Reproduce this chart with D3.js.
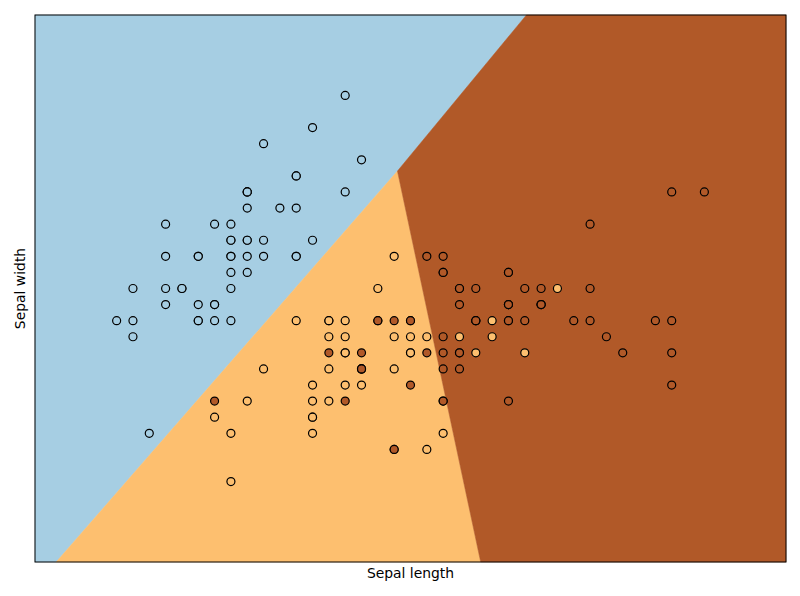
<!DOCTYPE html>
<html lang="en">
  <head>
    <meta charset="utf-8">
    <script src="https://d3js.org/d3.v7.min.js"></script>
    <style>
      body { margin: 0; background: #fff; }
      text { font-family: "DejaVu Sans", sans-serif; font-size: 13.9px; fill: #000; }
    </style>
  </head>
  <body>
    <svg id="chart"></svg>
    <script>
      // iris: sepal length / sepal width, by class
      var setosaX = [5.1,4.9,4.7,4.6,5.0,5.4,4.6,5.0,4.4,4.9,5.4,4.8,4.8,4.3,5.8,5.7,5.4,5.1,5.7,5.1,5.4,5.1,4.6,5.1,4.8,5.0,5.0,5.2,5.2,4.7,4.8,5.4,5.2,5.5,4.9,5.0,5.5,4.9,4.4,5.1,5.0,4.5,4.4,5.0,5.1,4.8,5.1,4.6,5.3,5.0];
      var setosaY = [3.5,3.0,3.2,3.1,3.6,3.9,3.4,3.4,2.9,3.1,3.7,3.4,3.0,3.0,4.0,4.4,3.9,3.5,3.8,3.8,3.4,3.7,3.6,3.3,3.4,3.0,3.4,3.5,3.4,3.2,3.1,3.4,4.1,4.2,3.1,3.2,3.5,3.6,3.0,3.4,3.5,2.3,3.2,3.5,3.8,3.0,3.8,3.2,3.7,3.3];
      var versicolorX = [7.0,6.4,6.9,5.5,6.5,5.7,6.3,4.9,6.6,5.2,5.0,5.9,6.0,6.1,5.6,6.7,5.6,5.8,6.2,5.6,5.9,6.1,6.3,6.1,6.4,6.6,6.8,6.7,6.0,5.7,5.5,5.5,5.8,6.0,5.4,6.0,6.7,6.3,5.6,5.5,5.5,6.1,5.8,5.0,5.6,5.7,5.7,6.2,5.1,5.7];
      var versicolorY = [3.2,3.2,3.1,2.3,2.8,2.8,3.3,2.4,2.9,2.7,2.0,3.0,2.2,2.9,2.9,3.1,3.0,2.7,2.2,2.5,3.2,2.8,2.5,2.8,2.9,3.0,2.8,3.0,2.9,2.6,2.4,2.4,2.7,2.7,3.0,3.4,3.1,2.3,3.0,2.5,2.6,3.0,2.6,2.3,2.7,3.0,2.9,2.9,2.5,2.8];
      var virginicaX = [6.3,5.8,7.1,6.3,6.5,7.6,4.9,7.3,6.7,7.2,6.5,6.4,6.8,5.7,5.8,6.4,6.5,7.7,7.7,6.0,6.9,5.6,7.7,6.3,6.7,7.2,6.2,6.1,6.4,7.2,7.4,7.9,6.4,6.3,6.1,7.7,6.3,6.4,6.0,6.9,6.7,6.9,5.8,6.8,6.7,6.7,6.3,6.5,6.2,5.9];
      var virginicaY = [3.3,2.7,3.0,2.9,3.0,3.0,2.5,2.9,2.5,3.6,3.2,2.7,3.0,2.5,2.8,3.2,3.0,3.8,2.6,2.2,3.2,2.8,2.8,2.7,3.3,3.2,2.8,3.0,2.8,3.0,2.8,3.8,2.8,2.8,2.6,3.0,3.4,3.1,3.0,3.1,3.1,3.1,2.7,3.2,3.3,3.0,2.5,3.0,3.4,3.0];

      var classNames = ["setosa", "versicolor", "virginica"];
      var classColors = ["#a6cee3", "#fdbf6f", "#b15928"];

      // decision regions (data coords)
      var setosaRegion = [[3.8,1.5],[3.93,1.5],[6.02,3.93],[6.81,4.9],[3.8,4.9]];
      var versicolorRegion = [[3.93,1.5],[6.53,1.5],[6.02,3.93]];
      var virginicaRegion = [[6.53,1.5],[8.4,1.5],[8.4,4.9],[6.81,4.9],[6.02,3.93]];

      var xDomain = [3.8, 8.4];
      var yDomain = [1.5, 4.9];

      var width = 800, height = 596;
      var margin = {top: 15, right: 14, bottom: 34, left: 35};

      var svg = d3.select("#chart")
        .attr("width", width)
        .attr("height", height);

      var x = d3.scaleLinear().domain(xDomain).range([margin.left, width - margin.right]);
      var y = d3.scaleLinear().domain(yDomain).range([height - margin.bottom, margin.top]);

      var regions = [setosaRegion, versicolorRegion, virginicaRegion];
      var line = d3.line().x(function(d){ return x(d[0]); }).y(function(d){ return y(d[1]); });

      svg.append("g")
        .selectAll("path")
        .data(regions)
        .enter()
        .append("path")
        .attr("d", function(d){ return line(d) + "Z"; })
        .attr("fill", function(d, i){ return classColors[i]; })
        .attr("stroke", function(d, i){ return classColors[i]; })
        .attr("stroke-width", 0.5);

      var points = [];
      [[setosaX, setosaY], [versicolorX, versicolorY], [virginicaX, virginicaY]].forEach(function(s, c)
      {
        s[0].forEach(function(v, i){ points.push({x: v, y: s[1][i], c: c}); });
      });

      svg.append("g")
        .selectAll("circle")
        .data(points)
        .enter()
        .append("circle")
        .attr("cx", function(d){ return x(d.x); })
        .attr("cy", function(d){ return y(d.y); })
        .attr("r", 4)
        .attr("fill", function(d){ return classColors[d.c]; })
        .attr("stroke", "#000")
        .attr("stroke-width", 1.2);

      // frame
      svg.append("rect")
        .attr("x", x(xDomain[0]))
        .attr("y", y(yDomain[1]))
        .attr("width", x(xDomain[1]) - x(xDomain[0]))
        .attr("height", y(yDomain[0]) - y(yDomain[1]))
        .attr("fill", "none")
        .attr("stroke", "#000")
        .attr("stroke-width", 1);

      svg.append("text")
        .attr("x", (x(xDomain[0]) + x(xDomain[1])) / 2)
        .attr("y", 578)
        .attr("text-anchor", "middle")
        .text("Sepal length");

      svg.append("text")
        .attr("transform", "translate(25," + ((y(yDomain[0]) + y(yDomain[1])) / 2) + ") rotate(-90)")
        .attr("text-anchor", "middle")
        .text("Sepal width");
    </script>
  </body>
</html>
